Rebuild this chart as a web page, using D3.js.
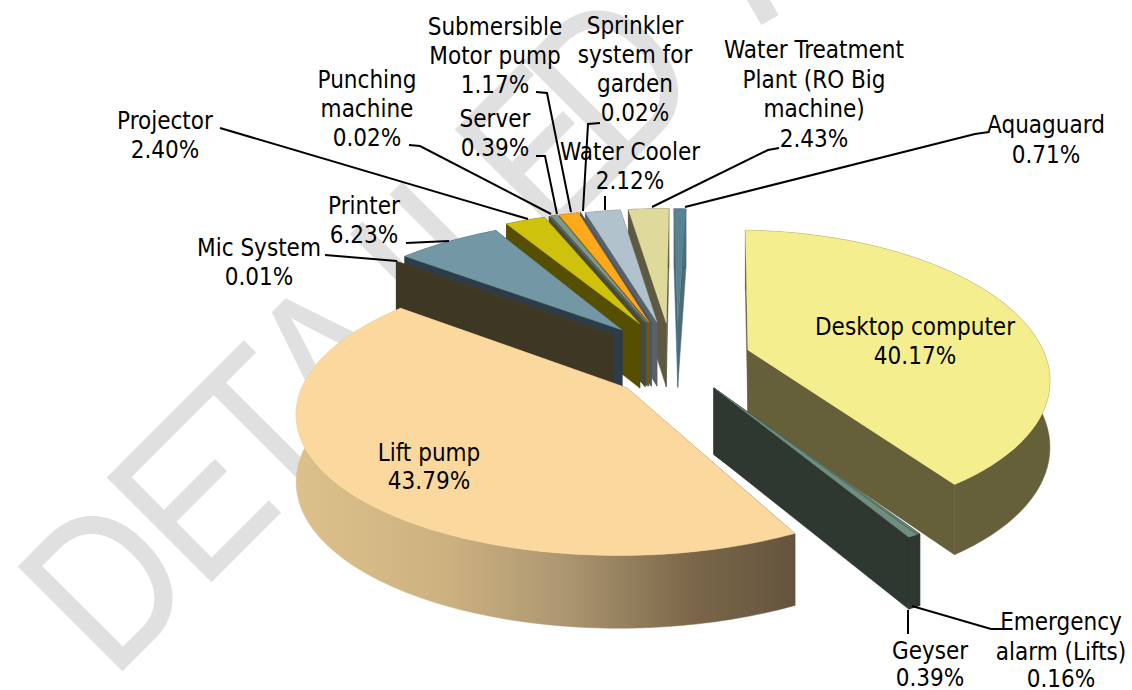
<!DOCTYPE html>
<html><head><meta charset="utf-8">
<script src="https://cdn.jsdelivr.net/npm/d3@7/dist/d3.min.js"></script>
<style>html,body{margin:0;padding:0;background:#fff}svg{display:block}</style>
</head><body><svg id="c" width="1132" height="690"></svg>
<script>
// ---- data ----
const categories = ["Desktop computer","Emergency alarm (Lifts)","Geyser","Lift pump","Mic System","Printer","Projector","Punching machine","Server","Submersible Motor pump","Sprinkler system for garden","Water Cooler","Water Treatment Plant (RO Big machine)","Aquaguard"];
const values = [40.17,0.16,0.39,43.79,0.01,6.23,2.40,0.02,0.39,1.17,0.02,2.12,2.43,0.71];
// ---- styling / layout ----
const topColors  = ["#F5EE8E","#5F7D70","#6E8F80","#FBD89E","#4A4430","#7397A5","#CFC20C","#6E7F70","#7C9A8C","#FCA91C","#57616A","#B1C2CC","#DFD99C","#5A8291"];
const sideColors = ["#655F3A","#2F3830","#2F3830","url(#liftSide)","#3E3723","#2D3D47","#564E00","#4A4A38","#4C5A52","#7F5510","#4F5660","#59616A","#5E5A42","#4A6B78"];
const explodeX = [ .243, .131, .131,-.128,-.181,-.153,-.097,-.080,-.074,-.068,-.060,-.042,-.012, .025];
const explodeV = [-.176, .098, .098, .098,-.294,-.331,-.379,-.390,-.394,-.394,-.394,-.394,-.388,-.385];
const rotStart = [ 2, 5, 5, 6, 5, 4.5, 3, 3, 3, 3, 3, 3, 3, 2];
const rotEnd   = [ 1, 5, 5, 4.5, 5, 4.5, 3, 3, 3, 3, 3, 3, 3, 2];
const radialX  = [.92,1,1,.97,1,1,1,1,1,1,1,1,1,1];
const radialV  = [1.06,1,1,.97,1,1.03,1.07,1.07,1.07,1.07,1.07,1.07,1.08,1.08];
const drawOrder = [13,12,11,10,9,8,7,6,5,4,0,1,2,3];
const cx=670, cy=374, Rx=330, Ry=140, persp=.165, depth=66;

const labelLines = [
 {c:915,y:[327,356],t:["Desktop computer","40.17%"]},
 {c:1061,y:[622,652,679],t:["Emergency","alarm (Lifts)","0.16%"]},
 {c:930,y:[651,678],t:["Geyser","0.39%"]},
 {c:429,y:[453,481],t:["Lift pump","43.79%"]},
 {c:259,y:[248,277],t:["Mic System","0.01%"]},
 {c:364,y:[206,235],t:["Printer","6.23%"]},
 {c:165,y:[121,150],t:["Projector","2.40%"]},
 {c:367,y:[80,109,138],t:["Punching","machine","0.02%"]},
 {c:495,y:[27,56,85],t:["Submersible","Motor pump","1.17%"]},
 {c:495,y:[119,148],t:["Server","0.39%"]},
 {c:635,y:[26,55,84,113],t:["Sprinkler","system for","garden","0.02%"]},
 {c:630,y:[152,181],t:["Water Cooler","2.12%"]},
 {c:814,y:[50,80,109,139],t:["Water Treatment","Plant (RO Big","machine)","2.43%"]},
 {c:1046,y:[125,155],t:["Aquaguard","0.71%"]}
];
const leaders = [
 [[912,606],[991,629],[1004,629]],
 [[908,610],[908,634]],
 [[325,255],[397,261]],
 [[406,243],[449,241]],
 [[220,128],[528,219]],
 [[409,145],[420,146],[551,214]],
 [[536,156],[545,156],[557,214]],
 [[536,92],[547,93],[571,212]],
 [[600,123],[588,124],[583,211]],
 [[605,196],[605,210]],
 [[779,148],[768,150],[652,207]],
 [[989,132],[975,134],[685,207]]
];
const watermarkLetters = ["D","E","T","A","I","L","E","D"];
const watermarkOffsets = [0,126,228,323,468,526,618,715];

const svg=d3.select("#c");
const defs=svg.append("defs");
const grad=defs.append("linearGradient").attr("id","liftSide").attr("gradientUnits","userSpaceOnUse")
  .attr("x1",296).attr("x2",793).attr("y1",0).attr("y2",0);
[[0,"#DDC18C"],[.3,"#CDB280"],[.55,"#AB9570"],[.8,"#7A6749"],[1,"#65543E"]].forEach(s=>grad.append("stop").attr("offset",s[0]).attr("stop-color",s[1]));

// watermark
watermarkLetters.forEach((ch,i)=>svg.append("text").text(ch)
  .attr("transform",`translate(112,681) rotate(-45) translate(${watermarkOffsets[i]},0) scale(.84,1)`)
  .attr("font-family","Liberation Sans, sans-serif").attr("font-size",214).attr("fill","#E0E0E0")
  .attr("stroke","#E0E0E0").attr("stroke-width",1));
svg.append("path").attr("d",d3.line()([[752,-11],[770,20]])).attr("stroke","#E0E0E0").attr("stroke-width",20).attr("fill","none");

const pie=d3.pie().sort(null).startAngle(0).endAngle(2*Math.PI);
const arcs=pie(values);
function project(X,V,h){const w=1/(1-persp*V);return [cx+Rx*X*w, cy+Ry*V*w+(h?depth*Math.sqrt(w):0)];}
const line=d3.line();
function point(i,a,h){return project(explodeX[i]+radialX[i]*Math.sin(a),explodeV[i]-radialV[i]*Math.cos(a),h);}
function apex(i,h){return project(explodeX[i],explodeV[i],h);}
const g=svg.append("g");
drawOrder.forEach(i=>{
  const a0=arcs[i].startAngle+rotStart[i]*Math.PI/180, a1=arcs[i].endAngle+rotEnd[i]*Math.PI/180;
  const ts=d3.range(0,61).map(k=>a0+(a1-a0)*k/60);
  const top=ts.map(t=>point(i,t,false)), bot=ts.map(t=>point(i,t,true));
  const s=sideColors[i];
  const wall=pts=>g.append("path").attr("d",line(pts)+"Z").attr("fill",s).attr("stroke",s).attr("stroke-width",.5);
  wall([apex(i,false),point(i,a0,false),point(i,a0,true),apex(i,true)]);
  wall([apex(i,false),point(i,a1,false),point(i,a1,true),apex(i,true)]);
  wall(top.concat(bot.slice().reverse()));
  g.append("path").attr("d",line([apex(i,false)].concat(top))+"Z").attr("fill",topColors[i]).attr("stroke",topColors[i]).attr("stroke-width",.4);
});
// leaders
leaders.forEach(l=>svg.append("path").attr("d",line(l)).attr("fill","none").attr("stroke","#000").attr("stroke-width",2));
// labels
labelLines.forEach(l=>l.t.forEach((t,k)=>svg.append("text").text(t).attr("x",l.c).attr("y",l.y[k]+8)
  .attr("text-anchor","middle").attr("font-family","DejaVu Sans Condensed, DejaVu Sans").attr("font-size",24).attr("fill","#000")));
</script></body></html>
